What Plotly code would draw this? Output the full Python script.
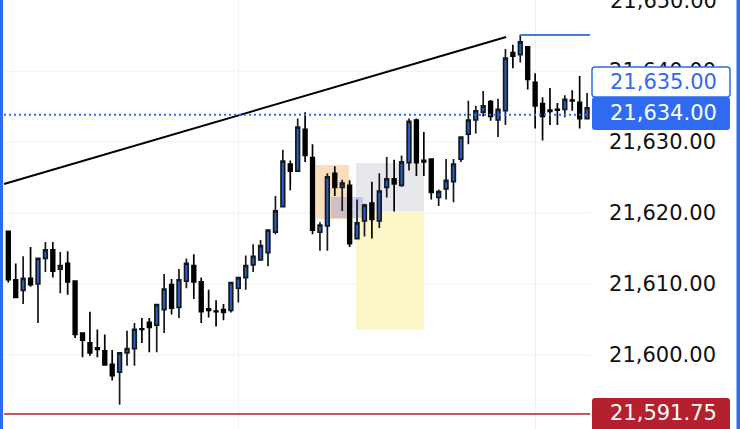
import plotly.graph_objects as go

opens = [21617.4, 21610.6, 21609.1, 21610.8, 21610.0, 21613.6, 21614.8, 21612.1, 21612.9, 21610.4,
         21603.1, 21601.7, 21601.0, 21600.6, 21598.7, 21597.6, 21600.3, 21600.9, 21603.7, 21604.6,
         21604.2, 21606.4, 21609.9, 21606.7, 21610.4, 21612.6, 21610.3, 21606.5, 21606.2, 21606.4,
         21606.3, 21609.4, 21610.9, 21612.7, 21613.4, 21614.4, 21617.3, 21620.9, 21626.9, 21625.9,
         21631.8, 21627.8, 21617.3, 21618.2, 21625.6, 21623.6, 21623.9, 21616.4, 21618.9, 21621.4,
         21618.9, 21623.6, 21624.8, 21623.9, 21627.1, 21633.1, 21627.4, 21627.6, 21622.2, 21623.4,
         21624.4, 21627.6, 21631.1, 21633.1, 21634.2, 21635.7, 21633.1, 21634.4, 21642.6, 21642.3,
         21643.4, 21638.4, 21635.4, 21634.5, 21634.6, 21634.6, 21635.9, 21635.6, 21633.3]
highs = [21617.4, 21612.9, 21613.9, 21615.2, 21613.6, 21615.9, 21615.9, 21614.5, 21614.6, 21610.4,
         21603.1, 21606.1, 21603.6, 21602.9, 21600.7, 21600.3, 21603.4, 21604.5, 21605.2, 21605.2,
         21607.1, 21611.4, 21610.7, 21612.1, 21613.6, 21614.2, 21610.9, 21609.2, 21607.7, 21607.2,
         21610.2, 21610.9, 21614.0, 21615.6, 21616.2, 21617.6, 21622.4, 21628.9, 21627.4, 21633.3,
         21634.2, 21629.7, 21618.7, 21625.6, 21626.6, 21624.7, 21624.6, 21621.9, 21621.3, 21624.4,
         21625.6, 21627.9, 21627.5, 21628.1, 21633.3, 21633.3, 21631.4, 21627.6, 21623.3, 21627.6,
         21627.6, 21630.8, 21635.8, 21635.1, 21637.2, 21635.9, 21636.1, 21643.1, 21643.7, 21645.1,
         21643.4, 21639.7, 21636.3, 21637.6, 21635.5, 21636.6, 21637.3, 21639.3, 21636.9]
lows = [21610.2, 21608.1, 21607.2, 21609.6, 21604.5, 21611.7, 21610.9, 21608.7, 21608.5, 21602.4,
        21599.7, 21599.9, 21599.7, 21598.5, 21596.4, 21593.0, 21598.5, 21598.5, 21601.7, 21600.4,
        21600.4, 21603.1, 21605.7, 21605.2, 21609.4, 21607.9, 21604.5, 21605.3, 21604.0, 21604.9,
        21606.0, 21607.4, 21609.2, 21611.7, 21613.4, 21612.5, 21617.0, 21620.9, 21623.2, 21625.9,
        21627.2, 21617.0, 21614.7, 21614.7, 21622.4, 21620.3, 21615.2, 21616.4, 21616.7, 21616.4,
        21617.9, 21622.2, 21620.2, 21623.7, 21626.0, 21625.2, 21625.2, 21621.9, 21621.0, 21621.9,
        21621.5, 21627.2, 21629.7, 21631.2, 21633.6, 21633.0, 21630.7, 21632.4, 21640.4, 21641.2,
        21637.4, 21631.9, 21630.2, 21632.4, 21632.4, 21633.5, 21634.4, 21631.9, 21633.2]
closes = [21610.6, 21608.1, 21610.8, 21609.9, 21613.6, 21614.8, 21611.8, 21612.6, 21610.3, 21602.9,
          21602.1, 21600.3, 21600.8, 21598.6, 21597.1, 21600.3, 21600.9, 21603.6, 21603.6, 21603.9,
          21607.1, 21609.3, 21606.6, 21610.6, 21612.9, 21610.3, 21606.1, 21606.3, 21606.1, 21606.0,
          21610.2, 21610.9, 21612.6, 21613.9, 21615.4, 21617.6, 21620.3, 21627.3, 21625.9, 21632.1,
          21628.1, 21617.6, 21618.3, 21625.1, 21623.6, 21624.2, 21615.7, 21618.6, 21621.1, 21619.1,
          21623.1, 21624.8, 21624.1, 21627.2, 21632.9, 21627.1, 21627.2, 21622.9, 21623.0, 21624.6,
          21626.9, 21630.7, 21633.1, 21634.4, 21635.1, 21633.6, 21634.6, 21641.8, 21642.1, 21644.1,
          21638.8, 21635.1, 21633.6, 21634.3, 21634.5, 21636.0, 21635.8, 21633.3, 21634.8]
bars = list(range(len(opens)))

price_ticks = [21600, 21610, 21620, 21630, 21640]
top_tick = 21650
time_grid = [31, 71]

trend_x = [-0.58, 67.08]
trend_y = [21624.08, 21644.79]
high_x = [69, 78.4]
high_y = [21645.07, 21645.07]
last_price = 21633.85
low_price = 21591.7
line_x = [-0.58, 78.4]

BLUE = "#2f6bf0"
RED = "#b5202f"
FONT = "DejaVu Sans"
W, H = 740, 429


def px_x(p):
    return p / W


def px_y(p):
    return 1 - p / H


def rounded_box(x0, y0, x1, y1, r, fill, line=None):
    # path in paper coords, corners drawn in pixels
    a, b, c, d = px_x(x0), px_y(y0), px_x(x1), px_y(y1)
    rx, ry = r / W, r / H
    path = (f"M{a + rx},{b} L{c - rx},{b} Q{c},{b} {c},{b - ry} L{c},{d + ry} Q{c},{d} {c - rx},{d} "
            f"L{a + rx},{d} Q{a},{d} {a},{d + ry} L{a},{b - ry} Q{a},{b} {a + rx},{b} Z")
    return dict(type="path", path=path, xref="paper", yref="paper", fillcolor=fill, layer="above",
                line=dict(color=line or fill, width=1.5 if line else 0))


fig = go.Figure()

for p in price_ticks:
    fig.add_shape(type="line", xref="x", yref="y", x0=line_x[0], x1=line_x[1], y0=p, y1=p,
                  line=dict(color="#f0f0f2", width=1), layer="below")

# zones
fig.add_shape(type="rect", x0=41.47, x1=45.92, y0=21619.15, y1=21626.76, fillcolor="#fbdfbd", line_width=0, layer="below")
fig.add_shape(type="rect", x0=46.86, x1=56.02, y0=21620.28, y1=21627.04, fillcolor="#e6e8ec", line_width=0, layer="below")
fig.add_shape(type="rect", x0=46.86, x1=56.02, y0=21603.52, y1=21620.28, fillcolor="#fdf6c6", line_width=0, layer="below")
fig.add_shape(type="rect", x0=43.49, x1=47.8, y0=21619.3, y1=21622.25, fillcolor="rgba(110,120,210,0.3)", line_width=0, layer="below")

fig.add_trace(go.Candlestick(
    x=bars, open=opens, high=highs, low=lows, close=closes,
    increasing=dict(line=dict(color="#14181f", width=1.7), fillcolor="#2b5fc4"),
    decreasing=dict(line=dict(color="#000000", width=1.7), fillcolor="#000000"),
    whiskerwidth=0,
))

fig.add_trace(go.Scatter(x=trend_x, y=trend_y, mode="lines", line=dict(color="#000000", width=2)))
fig.add_trace(go.Scatter(x=high_x, y=high_y, mode="lines", line=dict(color="#3f7fdc", width=2)))
fig.add_trace(go.Scatter(x=line_x, y=[last_price, last_price], mode="lines", line=dict(color=BLUE, width=2, dash="2px,3px")))
fig.add_trace(go.Scatter(x=line_x, y=[low_price, low_price], mode="lines", line=dict(color=RED, width=1.5)))

# price tags on the axis
fig.add_shape(rounded_box(592, 67, 730, 97, 3, "#ffffff", BLUE))
fig.add_shape(rounded_box(592, 97, 730, 130, 3, BLUE))
fig.add_shape(rounded_box(592, 398, 730, 432, 3, RED))

# screen edges
for x0, x1 in [(0, 3), (736.5, 740)]:
    fig.add_shape(type="rect", xref="paper", yref="paper", x0=px_x(x0), x1=px_x(x1), y0=0, y1=1,
                  fillcolor=BLUE, line_width=0, layer="above")

for text, y, col in [("21,635.00", 82, BLUE), ("21,634.00", 113, "#ffffff"), ("21,591.75", 413, "#ffffff")]:
    fig.add_annotation(xref="paper", yref="paper", x=px_x(719), y=px_y(y), text=text, showarrow=False,
                       xanchor="right", yanchor="middle", font=dict(family=FONT, size=21, color=col))

# top label is half off the page, the axis would not draw it
fig.add_annotation(xref="paper", yref="paper", x=px_x(719), y=px_y(1), text=f"{top_tick:,.2f}", showarrow=False,
                   xanchor="right", yanchor="middle", font=dict(family=FONT, size=21, color="#111111"))

fig.update_layout(
    width=W, height=H, margin=dict(l=0, r=0, t=0, b=0),
    paper_bgcolor="#ffffff", plot_bgcolor="#ffffff", showlegend=False,
    xaxis=dict(domain=[0, 719 / W], range=[-1.12, 95.78], rangeslider_visible=False, tickmode="array",
               tickvals=time_grid, showticklabels=False, showgrid=True, gridcolor="#f0f0f2", gridwidth=1,
               zeroline=False, showline=False, ticks=""),
    yaxis=dict(side="right", range=[21589.58, 21650.0], tickmode="array", tickvals=price_ticks, tickformat=",.2f",
               ticklabelposition="inside", showgrid=False, zeroline=False, showline=False, ticks="",
               tickfont=dict(family=FONT, size=21, color="#111111")),
)

fig.write_html("out.html", config={"displayModeBar": False},
               post_script="document.body.style.margin='0';document.body.style.overflow='hidden';")
